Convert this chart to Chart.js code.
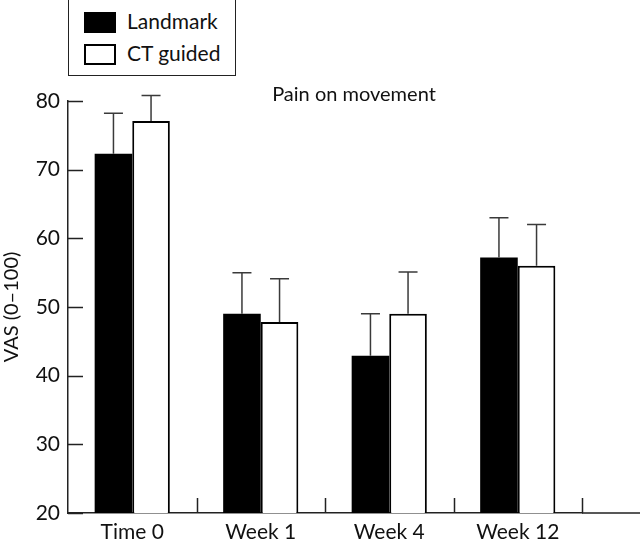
<!DOCTYPE html>
<html><head><meta charset="utf-8">
<script src="https://cdn.jsdelivr.net/npm/chart.js@4"></script>
<style>
html,body{margin:0;padding:0;background:#fff;overflow:hidden}
#wrap{position:relative;width:640px;height:539px}
#chart{position:absolute;left:0;top:0}
#legend{position:absolute;left:68px;top:-2px;width:168px;height:78px;border:1.5px solid #222;box-sizing:border-box;font-family:Lato,"Open Sans",sans-serif;font-size:21px;color:#111;background:#fff}
.item{position:absolute;left:0;height:22px}
.sw{position:absolute;left:15px;top:0;width:32px;height:21px;box-sizing:border-box;border:2px solid #000}
.lb{position:absolute;left:58px;top:-4px;white-space:nowrap}
</style></head>
<body>
<div id="wrap">
<canvas id="chart" width="640" height="539"></canvas>
<div id="legend"></div>
</div>
<script>
const categories = ['Time 0', 'Week 1', 'Week 4', 'Week 12'];
const seriesNames = ['Landmark', 'CT guided'];
const landmark = [72.3, 49.0, 42.9, 57.2];
const landmarkErr = [5.9, 6.0, 6.1, 5.8];
const ctGuided = [77.1, 47.8, 49.0, 56.0];
const ctGuidedErr = [3.7, 6.3, 6.1, 6.0];
const yTicks = [20, 30, 40, 50, 60, 70, 80];
const chartTitle = 'Pain on movement';
const yTitle = 'VAS (0–100)';
const fontFam = 'Lato, "Open Sans", sans-serif';

// HTML legend built from series names
const legendFills = ['#000', '#fff'];
const legendEl = document.getElementById('legend');
seriesNames.forEach((n, i) => {
  const it = document.createElement('div');
  it.className = 'item';
  it.style.top = (13 + i * 32) + 'px';
  const sw = document.createElement('div');
  sw.className = 'sw';
  sw.style.background = legendFills[i];
  const lb = document.createElement('div');
  lb.className = 'lb';
  lb.textContent = n;
  it.appendChild(sw); it.appendChild(lb);
  legendEl.appendChild(it);
});

const errorBars = {
  id: 'errorBars',
  afterDatasetsDraw(chart) {
    const ctx = chart.ctx, y = chart.scales.y;
    chart.data.datasets.forEach((ds, i) => {
      const meta = chart.getDatasetMeta(i);
      meta.data.forEach((bar, j) => {
        const yTop = y.getPixelForValue(ds.data[j] + ds.errors[j]);
        ctx.save();
        ctx.strokeStyle = '#3a3a3a';
        ctx.lineWidth = 1.5;
        ctx.beginPath();
        ctx.moveTo(bar.x, bar.y);
        ctx.lineTo(bar.x, yTop);
        ctx.moveTo(bar.x - 9.5, yTop);
        ctx.lineTo(bar.x + 9.5, yTop);
        ctx.stroke();
        ctx.restore();
      });
    });
  }
};

const axesExtras = {
  id: 'axesExtras',
  afterDraw(chart) {
    const ctx = chart.ctx, x = chart.scales.x, y = chart.scales.y, ca = chart.chartArea;
    ctx.save();
    ctx.strokeStyle = '#222';
    ctx.lineWidth = 1.5;
    ctx.beginPath();
    // inward y ticks
    yTicks.forEach(v => {
      const py = Math.round(y.getPixelForValue(v)) + 0.5;
      ctx.moveTo(ca.left, py);
      ctx.lineTo(ca.left + 15, py);
    });
    // inward x ticks at category boundaries
    const w = (x.right - x.left) / categories.length;
    categories.forEach((c, i) => {
      const px = Math.round(x.getPixelForValue(i) + w / 2) + 0.5;
      ctx.moveTo(px, ca.bottom);
      ctx.lineTo(px, ca.bottom - 15);
    });
    // extend x axis line to right edge
    ctx.moveTo(ca.right, ca.bottom);
    ctx.lineTo(chart.width, ca.bottom);
    ctx.stroke();
    // title inside plot
    ctx.fillStyle = '#111';
    ctx.font = '20px ' + fontFam;
    ctx.textAlign = 'center';
    ctx.textBaseline = 'alphabetic';
    ctx.fillText(chartTitle, 354, 101);
    ctx.restore();
  }
};

new Chart(document.getElementById('chart'), {
  type: 'bar',
  data: {
    labels: categories,
    datasets: [
      { label: seriesNames[0], data: landmark, errors: landmarkErr, backgroundColor: '#000', borderColor: '#000', borderWidth: 0 },
      { label: seriesNames[1], data: ctGuided, errors: ctGuidedErr, backgroundColor: '#fff', borderColor: '#000', borderWidth: 2 }
    ]
  },
  options: {
    responsive: false,
    animation: false,
    layout: { padding: { top: 101, right: 58, left: 0, bottom: 0 } },
    categoryPercentage: 0.585,
    barPercentage: 1.0,
    plugins: { legend: { display: false }, tooltip: { enabled: false } },
    scales: {
      x: {
        grid: { display: false, drawTicks: false },
        border: { display: true, color: '#222', width: 1.5 },
        ticks: { color: '#111', font: { family: fontFam, size: 21 }, padding: 7 },
        afterFit(s) { s.height = 26; }
      },
      y: {
        min: 20, max: 80,
        afterBuildTicks(s) { s.ticks = yTicks.map(v => ({ value: v })); },
        grid: { display: false, drawTicks: false },
        border: { display: true, color: '#222', width: 1.5 },
        ticks: { color: '#111', font: { family: fontFam, size: 21 }, padding: 8 },
        title: { display: true, text: yTitle, color: '#111', font: { family: fontFam, size: 20 }, padding: 0 },
        afterFit(s) { s.width = 68; }
      }
    }
  },
  plugins: [errorBars, axesExtras]
});
</script>
</body></html>
